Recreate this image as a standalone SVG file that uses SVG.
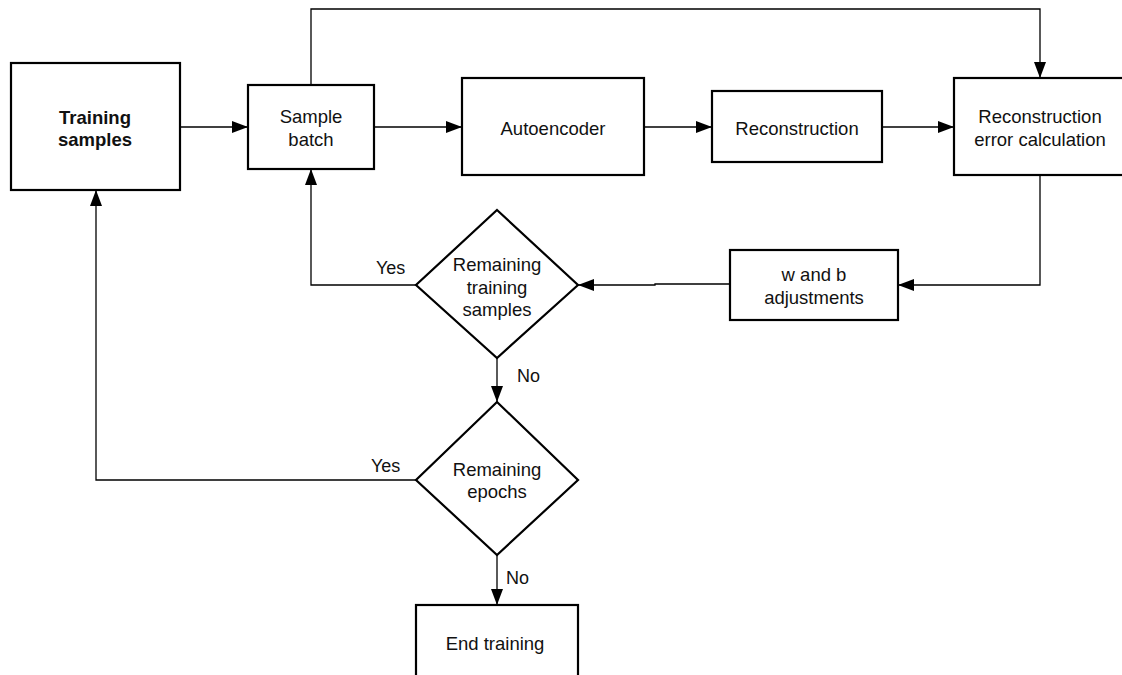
<svg xmlns="http://www.w3.org/2000/svg" width="1122" height="675" viewBox="0 0 1122 675">
<style>
.n{fill:#fff;stroke:#000;stroke-width:2.2}
.t{font-family:"Liberation Sans",Arial,sans-serif;font-size:18.5px;fill:#111;text-anchor:middle}
.b{font-weight:bold}
.c{fill:none;stroke:#000;stroke-width:1.3}
.l{font-family:"Liberation Sans",Arial,sans-serif;font-size:18px;fill:#111}
</style>
<defs>
<marker id="a" markerWidth="16" markerHeight="12" refX="16" refY="6" orient="auto" markerUnits="userSpaceOnUse">
<path d="M0,0 L16,6 L0,12 Z" fill="#000"/>
</marker>
</defs>
<rect width="1122" height="675" fill="#fff"/>
<g id="connectors">
<path class="c" d="M180,127 H248" marker-end="url(#a)"/>
<path class="c" d="M374,127 H462" marker-end="url(#a)"/>
<path class="c" d="M644,127 H712" marker-end="url(#a)"/>
<path class="c" d="M882,127 H954" marker-end="url(#a)"/>
<path class="c" d="M311,85 V9 H1040 V78" marker-end="url(#a)"/>
<path class="c" d="M1040,175 V285 H898" marker-end="url(#a)"/>
<path class="c" d="M730,284 H655 V285 H578" marker-end="url(#a)"/>
<path class="c" d="M416,285 H311 V169" marker-end="url(#a)"/>
<path class="c" d="M497,358 V402" marker-end="url(#a)"/>
<path class="c" d="M416,480 H96 V190" marker-end="url(#a)"/>
<path class="c" d="M497,555 V605" marker-end="url(#a)"/>
<text class="l" x="376" y="274">Yes</text>
<text class="l" x="517" y="382">No</text>
<text class="l" x="371" y="472">Yes</text>
<text class="l" x="506" y="584">No</text>
</g>
<g id="training-samples">
<rect class="n" x="11" y="63" width="169" height="127"/>
<text class="t b" x="95" y="124">Training</text>
<text class="t b" x="95" y="146">samples</text>
</g>
<g id="sample-batch">
<rect class="n" x="248" y="85" width="126" height="84"/>
<text class="t" x="311" y="123">Sample</text>
<text class="t" x="311" y="146">batch</text>
</g>
<g id="autoencoder">
<rect class="n" x="462" y="78" width="182" height="97"/>
<text class="t" x="553" y="135">Autoencoder</text>
</g>
<g id="reconstruction">
<rect class="n" x="712" y="91" width="170" height="71"/>
<text class="t" x="797" y="135">Reconstruction</text>
</g>
<g id="reconstruction-error">
<rect class="n" x="954" y="78" width="180" height="97"/>
<text class="t" x="1040" y="123">Reconstruction</text>
<text class="t" x="1040" y="146">error calculation</text>
</g>
<g id="w-b-adjustments">
<rect class="n" x="730" y="250" width="168" height="70"/>
<text class="t" x="814" y="281">w and b</text>
<text class="t" x="814" y="304">adjustments</text>
</g>
<g id="remaining-samples">
<polygon class="n" points="497,210 578,285 497,358 416,285"/>
<text class="t" x="497" y="271">Remaining</text>
<text class="t" x="497" y="294">training</text>
<text class="t" x="497" y="316">samples</text>
</g>
<g id="remaining-epochs">
<polygon class="n" points="497,402 578,480 497,555 416,480"/>
<text class="t" x="497" y="476">Remaining</text>
<text class="t" x="497" y="498">epochs</text>
</g>
<g id="end-training">
<rect class="n" x="416" y="605" width="162" height="80"/>
<text class="t" x="495" y="650">End training</text>
</g>
</svg>
